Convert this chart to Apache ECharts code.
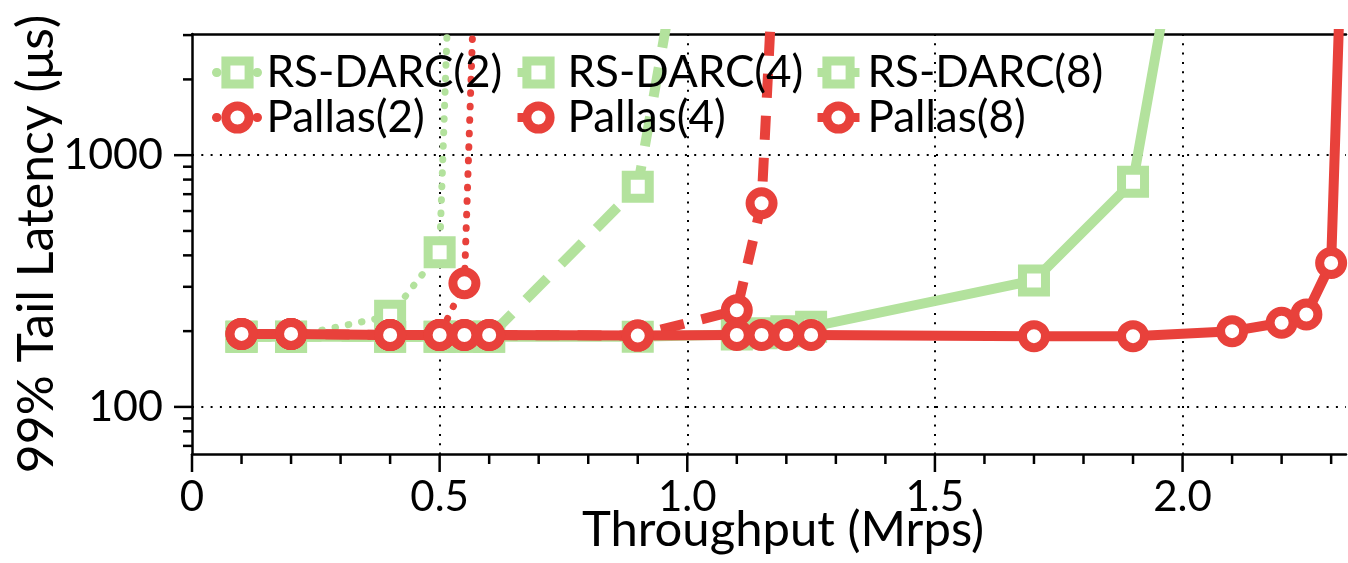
<!DOCTYPE html>
<html>
<head>
<meta charset="utf-8">
<script src="https://cdn.jsdelivr.net/npm/echarts@6/dist/echarts.min.js"></script>
<style>
  html, body { margin: 0; padding: 0; background: #fff; }
  #chart { width: 1348px; height: 563px; }
</style>
</head>
<body>
<div id="chart"></div>
<script>
// throughput (Mrps) / p99 latency (us) per series
var rs2X = [0.1, 0.2, 0.4, 0.5, 0.52];
var rs2Y = [190, 190, 230, 412, 6000];
var pal2X = [0.1, 0.2, 0.4, 0.5, 0.55, 0.57];
var pal2Y = [195, 195, 193, 193, 310, 5000];
var rs4X = [0.1, 0.2, 0.4, 0.5, 0.55, 0.6, 0.9, 0.96];
var rs4Y = [190, 190, 190, 190, 190, 190, 750, 3500];
var pal4X = [0.1, 0.2, 0.4, 0.5, 0.55, 0.6, 0.9, 1.1, 1.15, 1.17];
var pal4Y = [195, 195, 193, 193, 193, 193, 192, 242, 644, 4000];
var rs8X = [0.1, 0.2, 0.4, 0.5, 0.55, 0.6, 0.9, 1.1, 1.15, 1.2, 1.25, 1.7, 1.9, 2.0];
var rs8Y = [190, 190, 190, 190, 190, 190, 190, 194, 196, 200, 208, 318, 785, 10000];
var pal8X = [0.1, 0.2, 0.4, 0.5, 0.55, 0.6, 0.9, 1.1, 1.15, 1.2, 1.25, 1.7, 1.9, 2.1, 2.2, 2.25, 2.3, 2.32];
var pal8Y = [195, 195, 193, 193, 193, 193, 192, 193, 193, 193, 193, 191, 191, 200, 216, 233, 373, 6000];

// axis ticks
var xMajorTicks = [0, 0.5, 1.0, 1.5, 2.0];
var xMinorTicks = [0.1, 0.2, 0.3, 0.4, 0.6, 0.7, 0.8, 0.9, 1.1, 1.2, 1.3, 1.4, 1.6, 1.7, 1.8, 1.9, 2.1, 2.2, 2.3];
var yMajorTicks = [100, 1000];
var yMinorTicks = [70, 80, 90, 200, 300, 400, 500, 600, 700, 800, 900, 2000, 3000];

var X_MIN = 0, X_MAX = 2.33, Y_MIN = 65, Y_MAX = 3030;

var GREEN = '#b3e29d';
var RED = '#e8413b';
var FONT = 'Lato';

function zip(xs, ys) {
    return xs.map(function (x, i) { return [x, ys[i]]; });
}

function lineSeries(name, xs, ys, color, symbol, lineType, width, z) {
    return {
        name: name,
        type: 'line',
        data: zip(xs, ys),
        symbol: symbol,
        symbolSize: 23,
        z: z,
        itemStyle: { color: '#fff', borderColor: color, borderWidth: 9 },
        lineStyle: { color: color, width: width, type: lineType, cap: width < 8 ? 'round' : 'butt' },
        emphasis: { disabled: true }
    };
}

// tick marks, placed via the axes' own scales
function tickSeries(data, dir, len) {
    return {
        type: 'custom',
        silent: true,
        z: 10,
        data: data,
        renderItem: function (params, api) {
            var p = api.coord([api.value(0), api.value(1)]);
            var end = dir === 'x' ? [p[0], p[1] + len] : [p[0] - len, p[1]];
            return {
                type: 'line',
                shape: { x1: p[0], y1: p[1], x2: end[0], y2: end[1] },
                style: { stroke: '#000', lineWidth: 2.5 }
            };
        }
    };
}

var dotted = [0.5, 13];
var dashR = [24, 18];
var dashG = [30, 20];

function legendCol(left, names) {
    return {
        orient: 'vertical',
        left: left,
        top: 45,
        itemWidth: 42,
        itemHeight: 29,
        itemGap: 0,
        selectedMode: false,
        textStyle: { fontFamily: FONT, fontSize: 44, lineHeight: 45, color: '#000', padding: [0, 0, 0, 3] },
        itemStyle: { borderWidth: 9 },
        lineStyle: { width: 9 },
        data: names
    };
}

var chart = echarts.init(document.getElementById('chart'));

var option = {
    animation: false,
    backgroundColor: '#fff',
    grid: { left: 192, right: 2, top: 34, bottom: 109, outerBoundsMode: 'none', containLabel: false },
    legend: [
        legendCol(207, ['RS-DARC(2)', 'Pallas(2)']),
        legendCol(508, ['RS-DARC(4)', 'Pallas(4)']),
        legendCol(808, ['RS-DARC(8)', 'Pallas(8)'])
    ],
    xAxis: [{
        type: 'value',
        min: X_MIN,
        max: X_MAX,
        interval: 0.5,
        name: 'Throughput (Mrps)',
        nameLocation: 'middle',
        nameGap: 52,
        nameMoveOverlap: false,
        nameTextStyle: { fontFamily: FONT, fontSize: 49, color: '#000', padding: [0, 0, 0, 28] },
        axisLine: { lineStyle: { color: '#000', width: 2.5 } },
        axisTick: { show: false },
        axisLabel: {
            fontFamily: FONT, fontSize: 42, color: '#000', margin: 22,
            showMaxLabel: false,
            formatter: function (v) {
                if (v === 0) return '0';
                if (Math.abs(v * 2 - Math.round(v * 2)) < 1e-9) return v.toFixed(1);
                return '';
            }
        },
        splitLine: {
            show: true, showMinLine: false, showMaxLine: false,
            lineStyle: { color: '#000', width: 2, type: [2, 7.3] }
        }
    }, {
        type: 'value',
        position: 'top',
        min: X_MIN,
        max: X_MAX,
        axisLine: { show: true, onZero: false, lineStyle: { color: '#000', width: 2.5 } },
        axisTick: { show: false },
        axisLabel: { show: false },
        splitLine: { show: false }
    }],
    yAxis: {
        type: 'log',
        logBase: 10,
        min: Y_MIN,
        max: Y_MAX,
        name: '99% Tail Latency (μs)',
        nameLocation: 'middle',
        nameGap: 130,
        nameMoveOverlap: false,
        nameTextStyle: { fontFamily: FONT, fontSize: 50, color: '#000' },
        axisLine: { show: true, lineStyle: { color: '#000', width: 2.5 } },
        axisTick: { show: false },
        axisLabel: {
            fontFamily: FONT, fontSize: 43, color: '#000', margin: 29,
            showMinLabel: false, showMaxLabel: false,
            formatter: function (v) {
                var r = Math.round(v);
                return (r === 100 || r === 1000) ? String(r) : '';
            }
        },
        splitLine: {
            show: true, showMinLine: false, showMaxLine: false,
            lineStyle: { color: '#000', width: 2, type: [2, 7.3] }
        }
    },
    series: [
        lineSeries('RS-DARC(2)', rs2X, rs2Y, GREEN, 'rect', dotted, 7, 2),
        lineSeries('RS-DARC(4)', rs4X, rs4Y, GREEN, 'rect', dashG, 10, 2),
        lineSeries('RS-DARC(8)', rs8X, rs8Y, GREEN, 'rect', 'solid', 10, 2),
        lineSeries('Pallas(2)', pal2X, pal2Y, RED, 'circle', dotted, 7, 3),
        lineSeries('Pallas(4)', pal4X, pal4Y, RED, 'circle', dashR, 10, 3),
        lineSeries('Pallas(8)', pal8X, pal8Y, RED, 'circle', 'solid', 10, 3),
        tickSeries(xMajorTicks.map(function (v) { return [v, Y_MIN]; }), 'x', 18),
        tickSeries(xMinorTicks.map(function (v) { return [v, Y_MIN]; }), 'x', 10),
        tickSeries(yMajorTicks.map(function (v) { return [X_MIN, v]; }), 'y', 18),
        tickSeries(yMinorTicks.map(function (v) { return [X_MIN, v]; }), 'y', 9)
    ]
};

chart.setOption(option);
</script>
</body>
</html>
